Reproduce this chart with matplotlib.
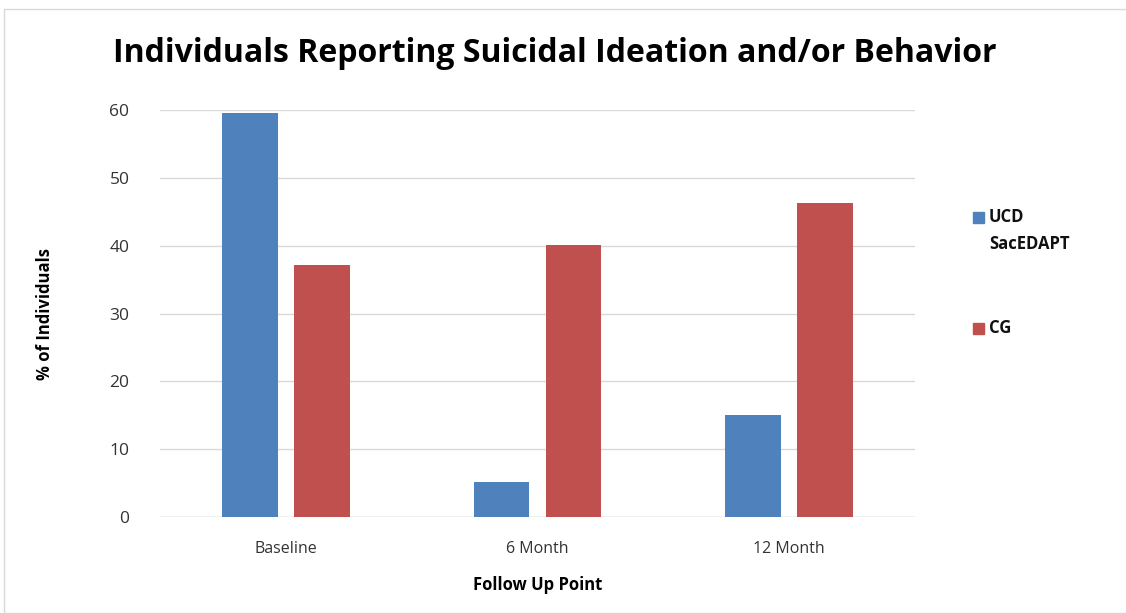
import numpy as np
import matplotlib.pyplot as plt
from matplotlib.patches import Rectangle

plt.rcParams["font.family"] = ["Open Sans", "DejaVu Sans"]

categories = ["Baseline", "6 Month", "12 Month"]
ucd = [59.5, 5.2, 15.0]
cg = [37.2, 40.1, 46.3]
series_names = ["UCD", "CG"]
colors = ["#4F81BD", "#C0504D"]

W, H = 1126, 613
fig = plt.figure(figsize=(W / 100, H / 100), dpi=100)
ax = fig.add_axes([160 / W, 1 - 517 / H, 755 / W, 407 / H])

x = np.arange(len(categories))
bw = 0.222
off = 0.143
ax.bar(x - off, ucd, bw, color=colors[0], zorder=3)
ax.bar(x + off, cg, bw, color=colors[1], zorder=3)

ax.set_xlim(-0.5, 2.5)
ax.set_ylim(0, 60)
ax.set_yticks(range(0, 61, 10))
ax.set_xticks(x)
ax.set_xticklabels(categories, fontsize=11.5)
ax.tick_params(axis="y", labelsize=12.5, length=0, pad=22, colors="#333333")
ax.tick_params(axis="x", length=0, pad=17, colors="#333333")
ax.grid(axis="y", color="#d9d9d9", lw=1, zorder=0)
for s in ax.spines.values():
    s.set_visible(False)
ax.axhline(0, color="#d9d9d9", lw=1, zorder=2)

ax.set_xlabel("Follow Up Point", fontsize=12, fontweight="bold", labelpad=14)
ax.set_ylabel("% of Individuals", fontsize=12, fontweight="bold", labelpad=40)

fig.text(555 / W, 1 - 53 / H, "Individuals Reporting Suicidal Ideation and/or Behavior",
         ha="center", va="center", fontsize=23, fontweight="bold")

# legend drawn by hand so the wrapped label spacing matches
legend_rows = [(series_names[0], 217, colors[0]), ("SacEDAPT", 244, None),
               (series_names[1], 328, colors[1])]
for label, yc, col in legend_rows:
    if col is not None:
        fig.patches.append(Rectangle((973 / W, 1 - (yc + 6) / H), 11 / W, 11 / H,
                                     transform=fig.transFigure, color=col))
    fig.text(989 / W, 1 - yc / H, label, ha="left", va="center",
             fontsize=12, fontweight="bold", color="#111111")

fig.patches.append(Rectangle((4 / W, 0), 1.2, 1 - 9 / H, transform=fig.transFigure,
                             fill=False, ec="#d9d9d9", lw=1))

fig.savefig("out.png", dpi=100)
